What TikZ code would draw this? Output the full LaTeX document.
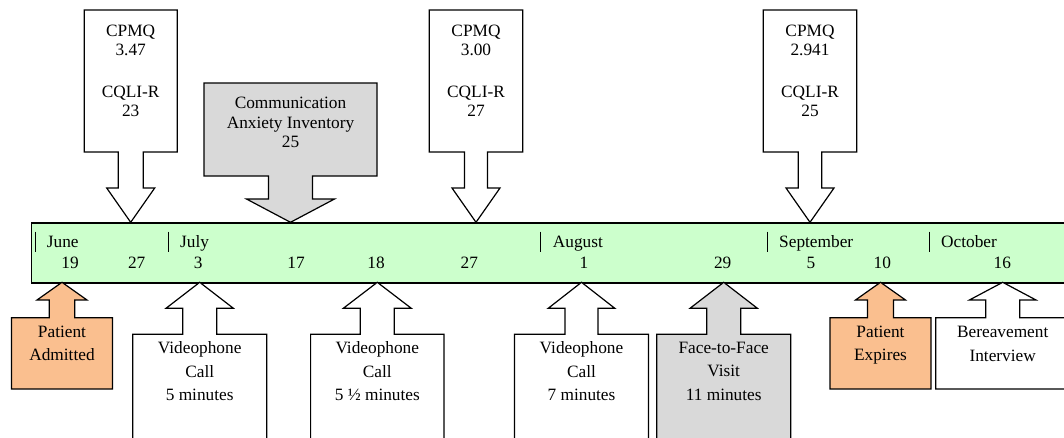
\documentclass[tikz,border=0pt]{standalone}
\usepackage{fontspec}
\setmainfont{Liberation Serif}
\definecolor{timegreen}{HTML}{CCFFCC}
\definecolor{calloutgray}{HTML}{D9D9D9}
\definecolor{calloutorange}{HTML}{FABF8F}
% #1 style, #2 centre x, #3 box half width, #4 far box edge, #5 near box edge,
% #6 shaft half width, #7 head half width, #8 head base, #9 tip
\newcommand\mycallout[9]{%
  \draw[#1] ({#2-#3},#4) -- ({#2+#3},#4) -- ({#2+#3},#5) -- ({#2+#6},#5)
    -- ({#2+#6},#8) -- ({#2+#7},#8) -- (#2,#9) -- ({#2-#7},#8)
    -- ({#2-#6},#8) -- ({#2-#6},#5) -- ({#2-#3},#5) -- cycle;}
\tikzset{
  outline/.style={draw=black, line width=1.2pt, line join=miter},
  whitebox/.style={outline, fill=white},
  graybox/.style={outline, fill=calloutgray},
  orangebox/.style={outline, fill=calloutorange},
  barbox/.style={outline, fill=timegreen, inner sep=0pt, anchor=north west},
  bartext/.style={font=\fontsize{17.3}{20}\selectfont, inner sep=0pt},
  daytext/.style={bartext, anchor=base},
  monthtext/.style={bartext, anchor=base west},
  tick/.style={draw=black, line width=0.9pt},
  toptext/.style={font=\fontsize{17.3}{19.3}\selectfont, align=center, inner sep=0pt, anchor=north},
  bottext/.style={font=\fontsize{17.3}{23.3}\selectfont, align=center, inner sep=0pt, anchor=north},
}
\begin{document}
\begin{tikzpicture}[x=1pt,y=-1pt]
\useasboundingbox (0,0) rectangle (1064,437);
\clip (0,0) rectangle (1064,437);

% timeline bar
\node[barbox, minimum width=1060pt, minimum height=60pt] (bar) at (30.7,222.3) {};

% month ticks and labels
\draw[tick] (35,231.7) -- (35,251.7);
\draw[tick] (168.3,231.7) -- (168.3,251.7);
\draw[tick] (540.3,231.7) -- (540.3,251.7);
\draw[tick] (767,231.7) -- (767,251.7);
\draw[tick] (929,231.7) -- (929,251.7);
\node[monthtext] (mjun) at (46.7,247.7) {June};
\node[monthtext] (mjul) at (180,247.7) {July};
\node[monthtext] (maug) at (552.7,247.7) {August};
\node[monthtext] (msep) at (779,247.7) {September};
\node[monthtext] (moct) at (941,247.7) {October};

% day numbers
\node[daytext] (d1) at (70,268.3) {19};
\node[daytext] (d2) at (136.7,268.3) {27};
\node[daytext] (d3) at (198.3,268.3) {3};
\node[daytext] (d4) at (296,268.3) {17};
\node[daytext] (d5) at (376,268.3) {18};
\node[daytext] (d6) at (469.3,268.3) {27};
\node[daytext] (d7) at (584,268.3) {1};
\node[daytext] (d8) at (722.7,268.3) {29};
\node[daytext] (d9) at (811,268.3) {5};
\node[daytext] (d10) at (882.3,268.3) {10};
\node[daytext] (d11) at (1002.3,268.3) {16};

% top callouts
\mycallout{whitebox}{130.7}{46.5}{10}{152}{12.5}{24}{188}{222.3}
\mycallout{graybox}{290.5}{86.5}{83}{176}{22}{44}{199}{222.3}
\mycallout{whitebox}{476}{46.7}{10}{152}{11.5}{24}{188}{222.3}
\mycallout{whitebox}{810}{46.7}{10}{152}{11.7}{24}{188}{222.3}
\node[toptext] (q1) at (130.7,24.5) {CPMQ\\3.47\\[22.7pt]CQLI-R\\23};
\node[toptext] (cai) at (290.5,97.2) {Communication\\Anxiety Inventory\\25};
\node[toptext] (q2) at (476,24.5) {CPMQ\\3.00\\[22.7pt]CQLI-R\\27};
\node[toptext] (q3) at (810,24.5) {CPMQ\\2.941\\[22.7pt]CQLI-R\\25};

% bottom callouts
\mycallout{orangebox}{62}{50.5}{389}{317.7}{12.8}{25}{300}{282.3}
\mycallout{whitebox}{199.7}{67}{450}{334.3}{17}{33.7}{308.3}{282.3}
\mycallout{whitebox}{377.3}{66.7}{450}{334.3}{17}{34}{308.3}{282.3}
\mycallout{whitebox}{581.5}{67}{450}{334.3}{16.5}{33.3}{308.3}{282.3}
\mycallout{graybox}{723.7}{67}{450}{334.3}{17}{33.7}{308.3}{282.3}
\mycallout{orangebox}{880.5}{50.5}{389}{317.7}{13}{25}{300}{282.3}
\mycallout{whitebox}{1002.7}{67}{389}{317.7}{17}{33.3}{300}{282.3}
\node[bottext] (adm) at (62,325.9) {Patient\\Admitted};
\node[bottext] (v1) at (199.7,341.5) {Videophone\\Call\\5 minutes};
\node[bottext] (v2) at (377.3,341.5) {Videophone\\Call\\5 ½ minutes};
\node[bottext] (v3) at (581.5,341.5) {Videophone\\Call\\7 minutes};
\node[bottext] (ff) at (723.7,341.9) {Face-to-Face\\Visit\\11 minutes};
\node[bottext] (exp) at (880.5,325.9) {Patient\\Expires};
\node[bottext] (ber) at (1002.7,326.2) {Bereavement\\Interview};
\end{tikzpicture}
\end{document}
